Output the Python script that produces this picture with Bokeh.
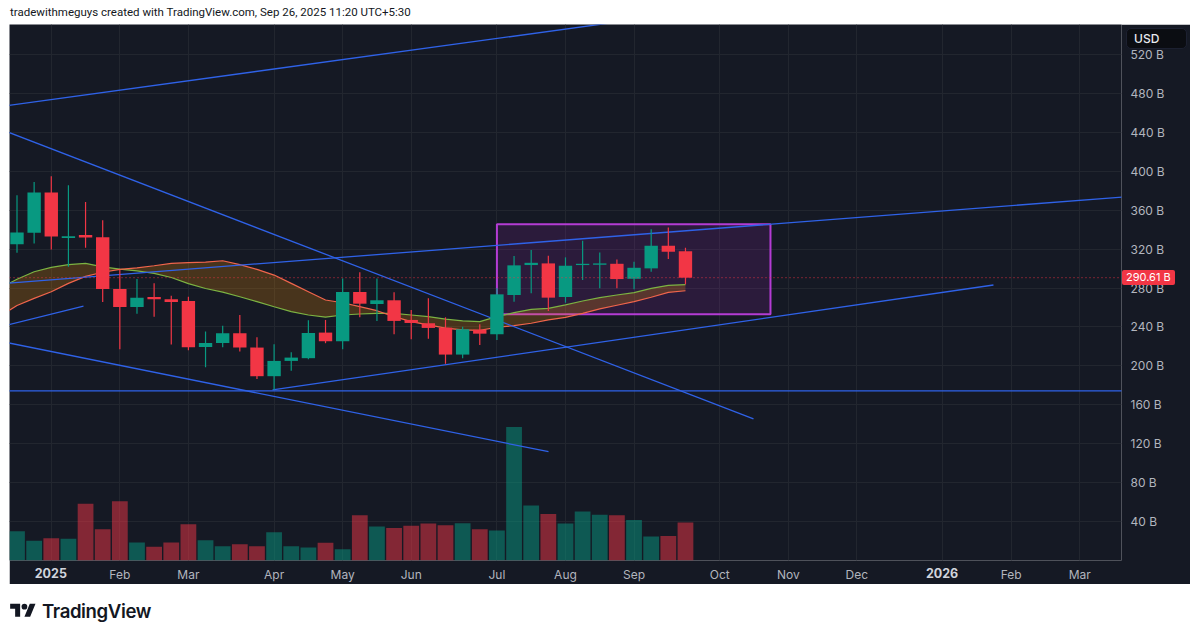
import pandas as pd
from bokeh.plotting import figure
from bokeh.models import Range1d, FixedTicker, Div
from bokeh.layouts import column
from bokeh.embed import file_html
from bokeh.resources import INLINE

# ---------------- data ----------------
first_week = "2024-12-23"          # Monday of first weekly candle
n_axis_weeks = 66                  # weeks covered by the time axis

opens  = [325.1, 336.7, 378.2, 331.3, 334.4, 332.3, 279.0, 260.5, 270.8, 268.4,
          266.7, 219.5, 223.6, 233.5, 218.8, 189.4, 205.1, 207.9, 234.2, 225.3,
          275.9, 263.6, 267.4, 247.2, 243.8, 239.3, 211.6, 237.2, 232.5, 272.8,
          303.6, 305.3, 270.8, 303.6, 303.9, 304.9, 289.5, 300.2, 323.4, 317.9]
highs  = [375.4, 389.0, 394.9, 385.6, 368.5, 349.7, 298.5, 289.2, 284.8, 272.1,
          271.1, 235.2, 241.3, 252.3, 229.4, 222.3, 214.0, 246.9, 247.2, 289.9,
          296.1, 289.9, 275.6, 257.4, 269.4, 249.9, 240.3, 242.8, 279.7, 312.8,
          319.0, 313.1, 311.5, 328.5, 316.6, 309.4, 307.0, 340.5, 342.3, 321.3]
lows   = [316.2, 325.8, 319.7, 301.9, 321.4, 265.6, 217.1, 253.6, 250.6, 221.9,
          216.1, 198.7, 219.2, 214.7, 186.4, 175.4, 194.9, 206.9, 223.3, 217.1,
          249.9, 246.2, 232.5, 227.4, 228.0, 202.1, 207.9, 221.5, 226.7, 266.0,
          274.6, 256.4, 264.9, 288.2, 279.7, 279.7, 278.7, 296.7, 309.7, 283.8]
closes = [337.1, 378.2, 333.0, 333.3, 332.0, 279.0, 260.5, 270.1, 268.4, 265.6,
          219.2, 223.6, 233.5, 218.8, 189.4, 205.1, 208.5, 233.8, 225.3, 275.9,
          263.9, 267.4, 246.2, 244.1, 239.0, 211.6, 237.6, 233.1, 273.5, 303.3,
          305.9, 270.1, 302.9, 304.9, 305.3, 289.2, 300.8, 323.4, 317.2, 290.61]
volumes = [30.1, 20.2, 22.9, 22.3, 58.2, 32.1, 60.8, 18.5, 14.1, 18.5,
           37.2, 20.8, 14.7, 16.7, 14.7, 29.0, 14.7, 13.3, 18.2, 11.6,
           46.5, 34.9, 33.5, 35.6, 37.9, 36.2, 38.3, 32.1, 30.8, 137.1,
           56.4, 47.9, 37.9, 50.3, 46.9, 46.5, 41.7, 24.6, 25.3, 39.0]

# moving-average ribbon (starts one week before the first visible candle)
ribbon_start = -1
ribbon_fast = [280.0, 289.0, 296.7, 301.2, 304.0, 305.3, 301.8, 299.5, 297.7, 295.0,
               290.8, 284.5, 279.5, 275.8, 271.0, 266.0, 260.8, 255.7, 252.3, 250.0,
               252.3, 253.3, 254.0, 254.0, 252.3, 250.6, 248.0, 246.2, 245.5, 250.6,
               254.7, 258.1, 259.1, 262.6, 266.7, 270.1, 272.8, 275.2, 279.7, 282.8, 283.4]
ribbon_slow = [251.0, 262.0, 269.4, 276.2, 284.8, 292.0, 296.2, 299.2, 300.8, 302.9,
               305.3, 306.0, 306.7, 308.0, 304.0, 299.2, 293.3, 284.8, 276.2, 267.7,
               264.9, 260.8, 256.7, 250.6, 245.4, 242.1, 238.7, 236.9, 236.5, 239.7,
               241.3, 243.8, 247.2, 249.9, 254.0, 258.5, 262.3, 266.0, 270.5, 275.6, 277.2]

# drawn trend lines (week index, price in B)
trend_x0 = [-1.0, -1.0, -1.0, -1.0, -1.0, 14.91, -1.0]
trend_y0 = [466.5, 443.4, 225.4, 240.0, 174.4, 175.4, 284.4]
trend_x1 = [34.5, 42.97, 31.01, 3.88, 64.5, 56.97, 64.5]
trend_y1 = [552.1, 145.6, 111.8, 261.5, 174.4, 283.1, 373.5]

# drawn range box
box_left, box_right, box_top, box_bottom = 28, 43.96, 345.6, 253.0

last_price = 290.61
price_ticks = [40, 80, 120, 160, 200, 240, 280, 320, 360, 400, 440, 480, 520]
month_names = ["Jan", "Feb", "Mar", "Apr", "May", "Jun", "Jul", "Aug", "Sep", "Oct", "Nov", "Dec"]
currency = "USD"

title_text = "tradewithmeguys created with TradingView.com, Sep 26, 2025 11:20 UTC+5:30"

# ---------------- derived ----------------
BG = "#151924"
UP = "#089981"
DN = "#f23645"
FONT = "Inter"

idx = list(range(len(closes)))
cols = [UP if c >= o else DN for o, c in zip(opens, closes)]
body_top = [max(o, c) for o, c in zip(opens, closes)]
body_bot = [min(o, c) for o, c in zip(opens, closes)]
body_bot = [b if t - b > 1.2 else t - 1.2 for t, b in zip(body_top, body_bot)]

axis_weeks = pd.date_range(first_week, periods=n_axis_weeks, freq="W-MON")
tick_idx, tick_lab = [], []
for i, d in enumerate(axis_weeks):
    if d.day <= 7:
        tick_idx.append(i)
        tick_lab.append(str(d.year) if d.month == 1 else month_names[d.month - 1])

ribbon_x = list(range(ribbon_start, ribbon_start + len(ribbon_fast)))

# geometry of the chart on the page (pixels)
FIG_LEFT, FIG_TOP, FIG_W, FIG_H = 9, 24, 1181, 560
AX_R, AX_B = 69, 23
X0 = -0.4376
PX_PER_WEEK = 17.14
frame_w = FIG_W - AX_R
frame_h = FIG_H - AX_B
x_end = X0 + frame_w / PX_PER_WEEK
y_end = 550.8

def sx(i):
    return FIG_LEFT + (i - X0) * PX_PER_WEEK

def sy(v):
    return FIG_TOP + (y_end - v) * frame_h / y_end

# ---------------- figure ----------------
p = figure(width=FIG_W, height=FIG_H,
           x_range=Range1d(X0, x_end), y_range=Range1d(0, y_end),
           output_backend="svg", toolbar_location=None,
           y_axis_location="right",
           min_border_left=0, min_border_top=0, min_border_right=AX_R, min_border_bottom=AX_B)
p.margin = (0, 0, 0, FIG_LEFT)
p.extra_y_ranges = {"vol": Range1d(0, y_end)}
p.background_fill_color = BG
p.border_fill_color = BG
p.outline_line_color = None

for ax in (p.xaxis[0], p.yaxis[0]):
    ax.axis_line_color = None
    ax.major_tick_line_color = None
    ax.minor_tick_line_color = None
    ax.major_tick_out = 0
    ax.major_tick_in = 0
    ax.minor_tick_out = 0
    ax.minor_tick_in = 0
    ax.major_label_text_color = "#b2b5be"
    ax.major_label_text_font = FONT
    ax.major_label_text_font_size = "12px"

p.xaxis.ticker = FixedTicker(ticks=tick_idx)
p.xaxis.major_label_overrides = {i: ("" if lab.isdigit() else lab) for i, lab in zip(tick_idx, tick_lab)}
p.xaxis.major_label_standoff = 6
p.yaxis.ticker = FixedTicker(ticks=price_ticks)
p.yaxis.major_label_overrides = {v: f"{v} B" for v in price_ticks}
p.yaxis.major_label_standoff = 9
p.yaxis.major_label_text_align = "left"

p.xgrid.grid_line_color = "#22262f"
p.ygrid.grid_line_color = "#22262f"

# volume
p.vbar(x=idx, top=volumes, bottom=0, width=0.92, y_range_name="vol",
       fill_color=cols, fill_alpha=0.5, line_color=None)

# range box
p.quad(left=box_left, right=box_right, top=box_top, bottom=box_bottom,
       fill_color="#9c27b0", fill_alpha=0.17, line_color="#b43cd4", line_width=2)

# ribbon
p.varea(x=ribbon_x, y1=ribbon_fast, y2=ribbon_slow, fill_color="#ff9800", fill_alpha=0.22)
p.line(ribbon_x, ribbon_fast, line_color="#7cb342", line_width=1.2)
p.line(ribbon_x, ribbon_slow, line_color="#f0654c", line_width=1.2)

# trend lines
p.segment(x0=trend_x0, y0=trend_y0, x1=trend_x1, y1=trend_y1, line_color="#2f62e8", line_width=1.3)

# candles
p.segment(x0=idx, y0=lows, x1=idx, y1=highs, line_color=cols, line_width=1.2)
p.vbar(x=idx, top=body_top, bottom=body_bot, width=0.78, fill_color=cols, line_color=None)

# last price line
p.segment(x0=[X0], y0=[last_price], x1=[x_end], y1=[last_price],
          line_color=DN, line_width=1, line_dash="1 3", line_alpha=0.9)

# ---------------- page texts ----------------
title_div = Div(text=title_text, width=1200, height=FIG_TOP, margin=(0, 0, 0, 0),
                styles={"font-family": "Roboto, sans-serif", "font-size": "11.5px",
                        "color": "#131722", "padding-left": "10px", "line-height": "25px"})

logo_svg = ('<svg width="26" height="20" viewBox="0 0 36 28" style="margin-right:6px">'
            '<path d="M14 22H7V11H0V4h14v18z M28 22h-8l7.5-18h8L28 22z" fill="#131722"/>'
            '<circle cx="20" cy="8" r="4" fill="#131722"/></svg>')
logo_div = Div(text=('<div style="display:flex;align-items:center;height:54px;padding-left:10px">'
                     + logo_svg +
                     '<span style="font-family:Inter,sans-serif;font-weight:600;font-size:18.6px;'
                     'color:#131722;letter-spacing:-0.4px">TradingView</span></div>'),
               width=1200, height=55, margin=(0, 0, 0, 0))

# overlays drawn on top of the price / time scales
ov = []
ov.append(f'<div style="position:absolute;left:{sx(x_end) + 5:.0f}px;top:{FIG_TOP + 4}px;width:61px;height:21px;'
          f'background:#0b0d12;border:1px solid #1c2030;border-radius:5px;box-sizing:border-box;'
          f'font-family:Inter,sans-serif;font-size:12px;font-weight:500;color:#e8eaef;'
          f'line-height:19px;padding-left:7px">{currency}</div>')
ov.append(f'<div style="position:absolute;left:{sx(x_end) + 1:.0f}px;top:{sy(last_price) - 7.5:.1f}px;height:15px;'
          f'background:{DN};border-radius:2px;padding:0 4px;font-family:Inter,sans-serif;'
          f'font-size:11px;color:#ffffff;line-height:15px">{last_price} B</div>')
for i, lab in zip(tick_idx, tick_lab):
    if lab.isdigit():
        ov.append(f'<div style="position:absolute;left:{sx(i) - 30:.1f}px;top:{FIG_TOP + frame_h + 4}px;width:60px;'
                  f'text-align:center;font-family:Inter,sans-serif;font-size:12.5px;font-weight:700;'
                  f'color:#d1d4dc;line-height:17px">{lab}</div>')
overlay = Div(text="".join(ov), width=1200, height=639, margin=(0, 0, 0, 0),
              styles={"position": "absolute", "left": "0px", "top": "0px", "z-index": "10",
                      "pointer-events": "none"})

layout = column(title_div, p, logo_div, overlay, spacing=0)

open("out.html", "w").write(file_html(layout, INLINE))
